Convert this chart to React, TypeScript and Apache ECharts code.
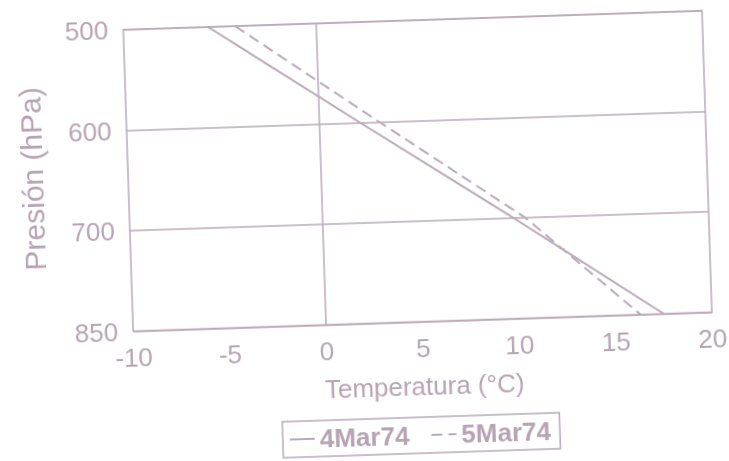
import React, { useEffect, useRef } from "react";
import * as echarts from "echarts";

const pressures = ["500", "600", "700", "850"];
const temp4Mar74 = [-5.6, 2.1, 9.9, 17.5];
const temp5Mar74 = [-4.2, 3.1, 10.5, 16.3];
const xTicks = { min: -10, max: 20, interval: 5 };
const seriesNames = ["4Mar74", "5Mar74"];

const TEXT = "#b8a3b4";
const LINE = "#bba8b9";
const FONT = "'Liberation Sans', Arial, sans-serif";

export default function App() {
  const ref = useRef<HTMLDivElement>(null);
  useEffect(() => {
    if (!ref.current) return;
    const chart = echarts.init(ref.current, undefined, { renderer: "svg" });
    chart.setOption({
      animation: false,
      backgroundColor: "#ffffff",
      textStyle: { fontFamily: FONT },
      grid: {
        left: 130,
        top: 22,
        width: 579,
        height: 301.5,
        show: true,
        borderColor: LINE,
        borderWidth: 1.5,
        backgroundColor: "transparent",
      },
      legend: {
        left: 276,
        top: 419,
        padding: [5, 9, 5, 6],
        itemGap: 21,
        itemWidth: 25,
        itemHeight: 14,
        borderColor: LINE,
        borderWidth: 1.5,
        borderRadius: 0,
        data: seriesNames,
        itemStyle: { color: "transparent", borderColor: "transparent", borderWidth: 0, opacity: 0 },
        textStyle: { color: TEXT, fontSize: 26, fontWeight: "bold", fontFamily: FONT },
      },
      xAxis: {
        type: "value",
        min: xTicks.min,
        max: xTicks.max,
        interval: xTicks.interval,
        name: "Temperatura (°C)",
        nameLocation: "middle",
        nameGap: 51,
        nameTextStyle: { color: TEXT, fontSize: 26, fontFamily: FONT },
        axisLine: { show: false },
        axisTick: { show: false },
        splitLine: { show: false },
        axisLabel: { color: TEXT, fontSize: 26, margin: 13, fontFamily: FONT },
      },
      yAxis: {
        type: "category",
        data: pressures,
        inverse: true,
        boundaryGap: false,
        axisLine: { show: false },
        axisTick: { show: false },
        splitLine: { show: true, lineStyle: { color: LINE, width: 1.5 } },
        axisLabel: { color: TEXT, fontSize: 26, margin: 15, fontFamily: FONT },
      },
      graphic: [
        {
          type: "text",
          x: 34,
          y: 168,
          rotation: Math.PI / 2,
          style: {
            text: "Presión (hPa)",
            fill: TEXT,
            fontSize: 30,
            fontFamily: FONT,
            align: "center",
            verticalAlign: "middle",
          },
        },
      ],
      series: [
        {
          name: seriesNames[0],
          type: "line",
          showSymbol: false,
          symbol: "none",
          color: LINE,
          lineStyle: { color: LINE, width: 2, type: "solid" },
          data: temp4Mar74.map((t, i) => [t, pressures[i]]),
          markLine: {
            silent: true,
            symbol: "none",
            label: { show: false },
            lineStyle: { color: LINE, width: 1.5, type: "solid" },
            data: [{ xAxis: 0 }],
          },
        },
        {
          name: seriesNames[1],
          type: "line",
          showSymbol: false,
          symbol: "none",
          color: LINE,
          lineStyle: { color: LINE, width: 2, type: [11, 6] },
          data: temp5Mar74.map((t, i) => [t, pressures[i]]),
        },
      ],
    });
    return () => chart.dispose();
  }, []);
  return (
    <div
      style={{
        position: "fixed",
        left: 0,
        top: 0,
        width: 729,
        height: 461,
        background: "#ffffff",
        transform: "rotate(-1.88deg)",
        transformOrigin: "364.5px 230.5px",
      }}
    >
      <div ref={ref} style={{ width: 729, height: 461 }} />
    </div>
  );
}
